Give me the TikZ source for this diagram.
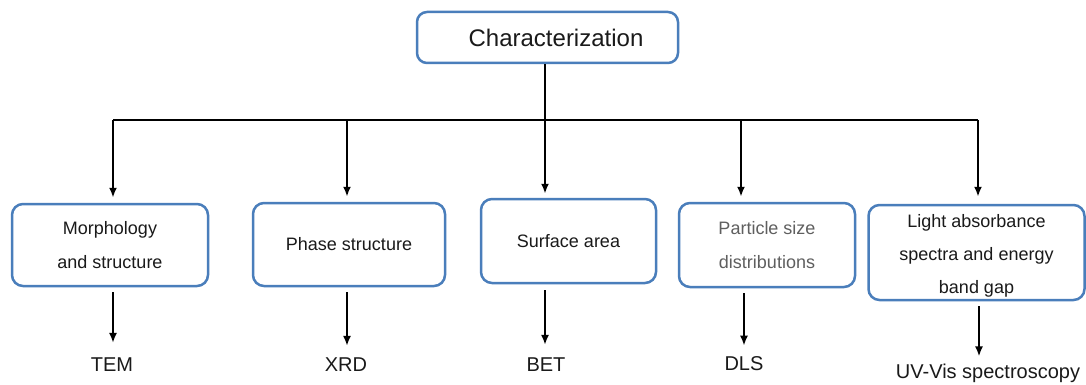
\documentclass[tikz,border=0pt]{standalone}
\usepackage{fontspec}
\setmainfont{Liberation Sans}
\usetikzlibrary{arrows.meta}
\definecolor{boxblue}{HTML}{4A7EBB}
\definecolor{txt}{HTML}{1A1A1A}
\definecolor{txtgray}{HTML}{5F5F5F}
\begin{document}
\begin{tikzpicture}[x=1pt,y=-1pt,
  cbox/.style={draw=boxblue,line width=2.5pt,rounded corners=11pt,align=center,
    text=txt,inner sep=0pt,font=\fontsize{18}{34}\selectfont},
  conn/.style={line width=2.2pt,draw=black},
  arr/.style={conn,-{Latex[length=10pt,width=8pt]}},
  lab/.style={text=txt,inner sep=0pt,font=\fontsize{20}{24}\selectfont}]
\useasboundingbox (0,0) rectangle (1086,385);
\fill[white] (0,0) rectangle (1086,385);

\node[cbox,minimum width=261pt,minimum height=51pt,rounded corners=10pt,
  font=\fontsize{24}{28}\selectfont] (top) at (547.5,37.5) {\hspace*{17pt}Characterization};

\node[cbox,minimum width=196pt,minimum height=82pt] (b1) at (110,245) {Morphology\\and structure};
\node[cbox,minimum width=192pt,minimum height=83pt] (b2) at (349,244.5) {Phase structure};
\node[cbox,minimum width=175pt,minimum height=84pt] (b3) at (568.5,241) {Surface area};
\node[cbox,minimum width=176pt,minimum height=84pt,text=txtgray] (b4) at (767,245) {Particle size\\distributions};
\node[cbox,minimum width=216pt,minimum height=95pt,font=\fontsize{18}{33}\selectfont] (b5) at (976.5,252.5) {\rule{0pt}{20pt}Light absorbance\\spectra and energy\\band gap};

\node[lab] (l1) at (112,365) {TEM};
\node[lab] (l2) at (346,365) {XRD};
\node[lab] (l3) at (546,365) {BET};
\node[lab] (l4) at (744,364) {DLS};
\node[lab] (l5) at (988,373) {UV-Vis spectroscopy};

% branch coordinates on the horizontal bar
\coordinate (h1) at (113,120);
\coordinate (h2) at (347,120);
\coordinate (h3) at (545,120);
\coordinate (h4) at (741,120);
\coordinate (h5) at (978,120);

\draw[conn] (top.south -| h3) -- (h3);
\draw[conn] (h1) -- (h5);

\draw[arr] (h1) -- ([yshift=5pt]h1 |- b1.north);
\draw[arr] (h2) -- ([yshift=5pt]h2 |- b2.north);
\draw[arr] (h3) -- ([yshift=4pt]h3 |- b3.north);
\draw[arr] (h4) -- ([yshift=5pt]h4 |- b4.north);
\draw[arr] (h5) -- ([yshift=7pt]h5 |- b5.north);

\draw[arr] ([yshift=-5pt]b1.south -| h1) -- ([yshift=15pt]h1 |- l1.north);
\draw[arr] ([yshift=-5pt]b2.south -| h2) -- ([yshift=12pt]h2 |- l2.north);
\draw[arr] ([yshift=-6pt]b3.south -| h3) -- ([yshift=13pt]h3 |- l3.north);
\draw[arr] ([yshift=-5pt]b4.south -| l4) -- ([yshift=11pt]l4.north);
\draw[arr] ([yshift=-5pt]b5.south -| 979,0) -- ([yshift=7pt]979,0 |- l5.north);
\end{tikzpicture}
\end{document}
